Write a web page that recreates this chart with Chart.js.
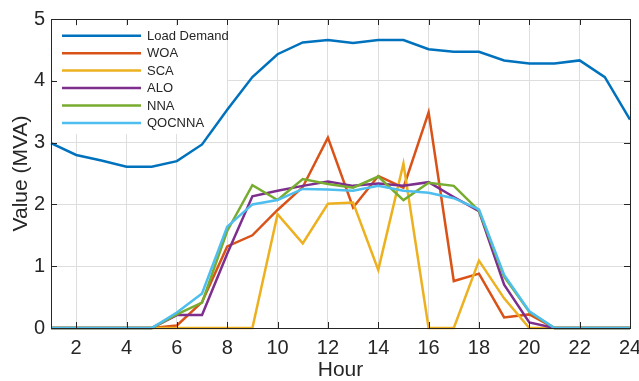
<!DOCTYPE html>
<html><head><meta charset="utf-8">
<script src="https://cdn.jsdelivr.net/npm/chart.js@4/dist/chart.umd.min.js"></script>
<style>html,body{margin:0;padding:0;background:#fff}#wrap{width:639px;height:381px}</style>
</head><body><div id="wrap"><canvas id="c" width="639" height="381"></canvas></div>
<script>
const hours = [1,2,3,4,5,6,7,8,9,10,11,12,13,14,15,16,17,18,19,20,21,22,23,24];
const loadDemand = [2.99,2.80,2.71,2.61,2.61,2.70,2.97,3.53,4.06,4.43,4.62,4.66,4.61,4.66,4.66,4.51,4.47,4.47,4.33,4.28,4.28,4.33,4.06,3.37];
const woa    = [0,0,0,0,0,0.04,0.42,1.32,1.50,1.91,2.28,3.08,1.95,2.46,2.27,3.49,0.76,0.88,0.17,0.22,0,0,0,0];
const sca    = [0,0,0,0,0,0,0,0,0,1.84,1.37,2.01,2.03,0.94,2.66,0,0,1.09,0.48,0,0,0,0,0];
const alo    = [0,0,0,0,0,0.21,0.21,1.20,2.13,2.22,2.30,2.37,2.30,2.34,2.30,2.36,2.12,1.89,0.70,0.09,0,0,0,0];
const nna    = [0,0,0,0,0,0.22,0.41,1.57,2.31,2.07,2.41,2.33,2.27,2.45,2.07,2.35,2.30,1.90,0.83,0.26,0,0,0,0];
const qocnna = [0,0,0,0,0,0.25,0.56,1.64,2.00,2.07,2.25,2.24,2.22,2.30,2.22,2.19,2.10,1.92,0.86,0.27,0,0,0,0];
const seriesNames = ['Load Demand','WOA','SCA','ALO','NNA','QOCNNA'];
const seriesColors = ['#0072BD','#D95319','#EDB120','#7E2F8E','#77AC30','#4DBEEE'];
const xTicks = [2,4,6,8,10,12,14,16,18,20,22,24];
const yTicks = [0,1,2,3,4,5];

const allSeries = [loadDemand, woa, sca, alo, nna, qocnna];
const TXT = '#262626';
const FONT = "'Liberation Sans', Arial, sans-serif";

const datasets = allSeries.map((vals, i) => ({
  label: seriesNames[i],
  data: hours.map((h, k) => ({x: h, y: vals[k]})),
  borderColor: seriesColors[i],
  backgroundColor: seriesColors[i],
  borderWidth: 2.5,
  pointRadius: 0,
  tension: 0,
  fill: false,
  clip: false,
  order: allSeries.length - i
}));

const boxPlugin = {
  id: 'boxPlugin',
  beforeDatasetsDraw(chart) {
    const ctx = chart.ctx;
    ctx.save();
    ctx.fillStyle = '#fff';
    ctx.fillRect(53, 26, 174, 108);
    ctx.restore();
  },
  afterDatasetsDraw(chart) {
    const ctx = chart.ctx;
    ctx.save();
    const y0 = 35.7, step = 17.45;
    chart.data.datasets.forEach((ds, i) => {
      const yy = y0 + i * step;
      ctx.strokeStyle = ds.borderColor;
      ctx.lineWidth = 2.5;
      ctx.beginPath();
      ctx.moveTo(62, yy);
      ctx.lineTo(141, yy);
      ctx.stroke();
      ctx.fillStyle = TXT;
      ctx.font = "13px " + FONT;
      ctx.textBaseline = 'middle';
      ctx.textAlign = 'left';
      ctx.fillText(ds.label, 147, yy + 0.5);
    });
    ctx.restore();
  },
  afterDraw(chart) {
    const ctx = chart.ctx;
    const a = chart.chartArea;
    const xs = chart.scales.x, ys = chart.scales.y;
    ctx.save();
    ctx.strokeStyle = TXT;
    ctx.lineWidth = 1;
    ctx.strokeRect(Math.round(a.left) + 0.5, Math.round(a.top) + 0.5, Math.round(a.right - a.left), Math.round(a.bottom - a.top));
    const tl = 6;
    ctx.beginPath();
    xTicks.forEach(v => {
      const px = Math.round(xs.getPixelForValue(v)) + 0.5;
      ctx.moveTo(px, a.bottom); ctx.lineTo(px, a.bottom - tl);
      ctx.moveTo(px, a.top); ctx.lineTo(px, a.top + tl);
    });
    yTicks.forEach(v => {
      const py = Math.round(ys.getPixelForValue(v)) + 0.5;
      ctx.moveTo(a.left, py); ctx.lineTo(a.left + tl, py);
      ctx.moveTo(a.right, py); ctx.lineTo(a.right - tl, py);
    });
    ctx.stroke();
    ctx.restore();
  }
};

new Chart(document.getElementById('c'), {
  type: 'line',
  data: { datasets },
  options: {
    responsive: false,
    animation: false,
    devicePixelRatio: 1,
    layout: { padding: { top: 19, right: 9, left: 0, bottom: 0 } },
    plugins: { legend: { display: false }, tooltip: { enabled: false } },
    scales: {
      x: {
        type: 'linear', min: 1, max: 24,
        afterBuildTicks: s => { s.ticks = xTicks.map(v => ({value: v})); },
        afterFit: s => { s.height = 53; s.paddingLeft = 0; s.paddingRight = 0; },
        grid: { color: '#dedede', drawTicks: false, lineWidth: 1 },
        border: { display: false },
        ticks: { color: TXT, font: { size: 20, family: FONT }, padding: 8, maxRotation: 0, autoSkip: false },
        title: { display: true, text: 'Hour', color: TXT, font: { size: 21, family: FONT, lineHeight: 1 }, padding: { top: 0, bottom: 0 } }
      },
      y: {
        min: 0, max: 5,
        afterBuildTicks: s => { s.ticks = yTicks.map(v => ({value: v})); },
        afterFit: s => { s.width = 51; s.paddingTop = 0; s.paddingBottom = 0; },
        grid: { color: '#dedede', drawTicks: false, lineWidth: 1 },
        border: { display: false },
        ticks: { color: TXT, font: { size: 20, family: FONT }, padding: 6 },
        title: { display: true, text: 'Value (MVA)', color: TXT, font: { size: 21, family: FONT, lineHeight: 1 }, padding: { top: 11, bottom: 0 } }
      }
    }
  },
  plugins: [boxPlugin]
});
</script>
</body></html>
